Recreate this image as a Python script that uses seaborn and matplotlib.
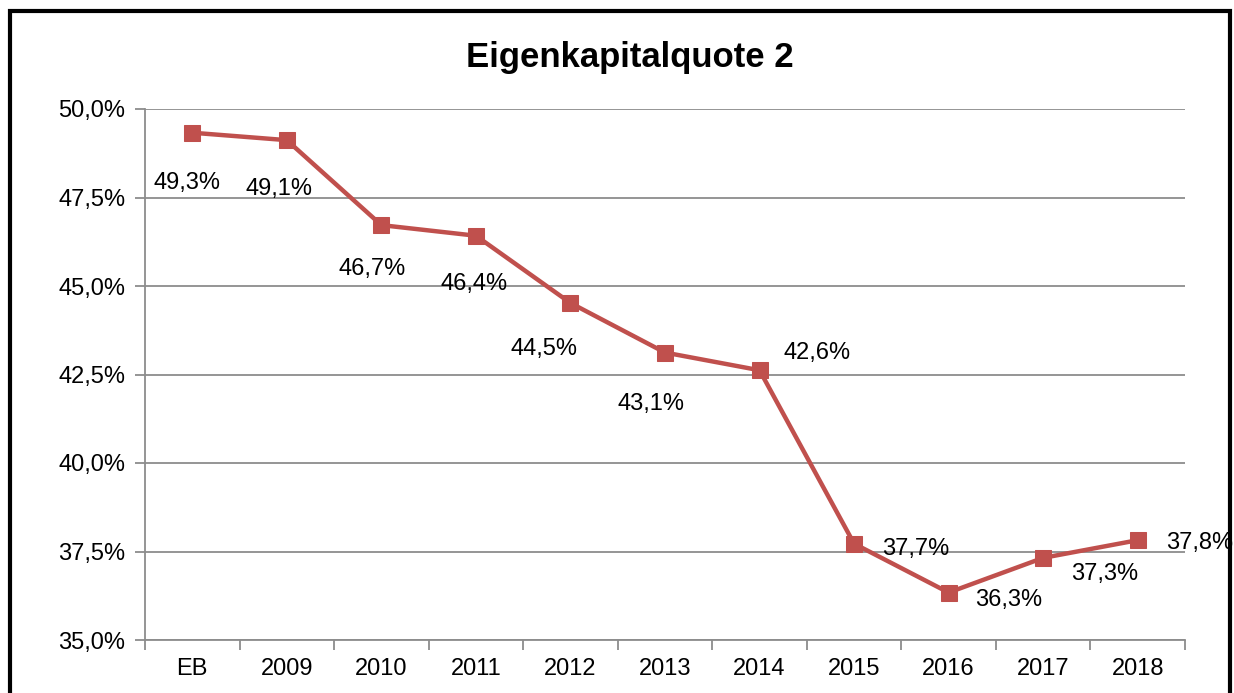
import matplotlib
matplotlib.use('Agg')
import matplotlib.pyplot as plt
import matplotlib.patches as mpatches
from matplotlib.ticker import FixedLocator, FuncFormatter
import pandas as pd
import seaborn as sns

# data
years  = ['EB', '2009', '2010', '2011', '2012', '2013', '2014',
          '2015', '2016', '2017', '2018']
quote  = [49.33, 49.12, 46.72, 46.42, 44.52, 43.12, 42.62,
          37.72, 36.34, 37.32, 37.82]
yticks = [35.0, 37.5, 40.0, 42.5, 45.0, 47.5, 50.0]

# label offsets in pixels (dx, dy upwards), like Excel's placement
label_off = [(-5, -50), (-8, -49), (-9, -44), (-2, -48), (-26, -46),
             (-14, -51), (58, 17), (62, -5), (60, -7), (61, -16), (62, -3)]

RED  = '#C0504D'
GRID = '#8C8C8C'

sns.set_theme(style='white')
plt.rcParams['font.family'] = ['Liberation Sans', 'DejaVu Sans']

df = pd.DataFrame({'pos': range(len(years)), 'Quote': quote})

fig = plt.figure(figsize=(12.34, 6.93), dpi=100)
ax = fig.add_axes([145/1234, 1 - 640/693, 1040/1234, 531/693])

sns.lineplot(data=df, x='pos', y='Quote', ax=ax, color=RED, linewidth=3.2,
             marker='s', markersize=12, markeredgecolor=RED, zorder=3)

ax.set_xlim(-0.5, len(years) - 0.5)
ax.set_ylim(35, 50)
ax.yaxis.set_major_locator(FixedLocator(yticks))
ax.yaxis.set_major_formatter(FuncFormatter(lambda v, p: f'{v:.1f}%'.replace('.', ',')))
ax.grid(axis='y', color=GRID, linewidth=1.3)
ax.set_axisbelow(True)

# ticks at category boundaries, labels centred
ax.set_xticks([i - 0.5 for i in range(len(years) + 1)])
ax.set_xticklabels([])
ax.set_xticks(range(len(years)), minor=True)
ax.set_xticklabels(years, minor=True)
ax.tick_params(axis='x', which='major', direction='out', length=7, width=1.3,
               color=GRID, bottom=True)
ax.tick_params(axis='x', which='minor', length=0, pad=13, labelsize=17,
               labelcolor='black')
ax.tick_params(axis='y', direction='out', length=7, width=1.3, color=GRID,
               left=True, labelsize=17, pad=7, labelcolor='black')

for s in ['top', 'right']:
    ax.spines[s].set_visible(False)
for s in ['left', 'bottom']:
    ax.spines[s].set_color(GRID)
    ax.spines[s].set_linewidth(1.3)

ax.set_xlabel('')
ax.set_ylabel('')

px = 72 / fig.dpi
for i, v in enumerate(quote):
    dx, dy = label_off[i]
    ax.annotate(f'{v:.1f}%'.replace('.', ','), (i, v),
                xytext=(dx * px, dy * px), textcoords='offset points',
                ha='center', va='center', fontsize=17, color='black',
                annotation_clip=False)

fig.text(630/1234, 1 - 57/693, 'Eigenkapitalquote 2', ha='center',
         va='center', fontsize=25, fontweight='bold', color='black')

# black frame around the chart
fig.patches.append(mpatches.Rectangle((10/1234, -0.05), 1220/1234, 1.05 - 11/693,
                                      transform=fig.transFigure, fill=False,
                                      edgecolor='black', linewidth=3))

fig.savefig('out.png', dpi=100)
